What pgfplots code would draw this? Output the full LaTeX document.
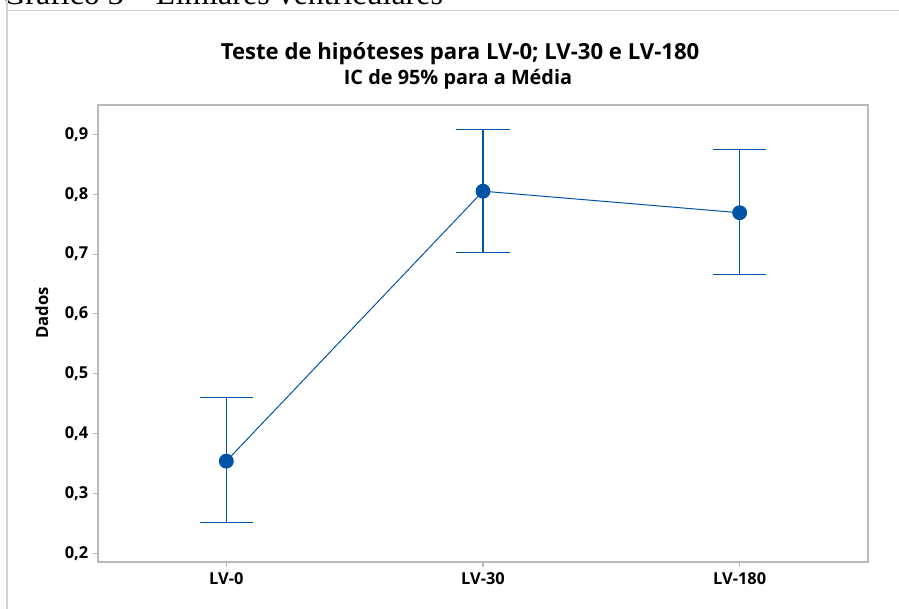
\documentclass[border=0pt]{standalone}
\usepackage{pgfplots}
\pgfplotsset{compat=1.18}
\usepackage{fontspec}
\setmainfont{Open Sans}
\newfontfamily\seriffont{Liberation Serif}
\definecolor{mblue}{RGB}{0,84,166}
\definecolor{axgray}{RGB}{185,185,185}
\definecolor{framegray}{RGB}{210,210,210}
\begin{document}
\begin{tikzpicture}[x=1pt,y=1pt]
\useasboundingbox (0,0) rectangle (674.25,456);
% header text (cut at top)
\node[anchor=base west,inner sep=0pt,font=\seriffont\fontsize{24}{28}\selectfont] at (1.5,452.6) {Gráfico 3 – Limiares ventriculares};
% frame
\draw[framegray,line width=0.9pt] (5.25,460) -- (5.25,448.1) -- (680,448.1);
\draw[framegray,line width=0.9pt] (5.25,448.1) -- (5.25,-5);
% titles
\node[anchor=base,inner sep=0pt,font=\bfseries\fontsize{16.6}{19}\selectfont] at (345,411) {Teste de hipóteses para LV-0; LV-30 e LV-180};
\node[anchor=base,inner sep=0pt,font=\bfseries\fontsize{14.9}{17}\selectfont] at (343.5,392.25) {IC de 95\% para a Média};
% y label
\node[rotate=90,anchor=center,inner sep=0pt,font=\bfseries\fontsize{12.5}{14}\selectfont] at (31.5,221.25) {Dados};
\begin{axis}[
  at={(73.5pt,34.5pt)}, anchor=south west,
  scale only axis, width=577.5pt, height=342.75pt,
  xmin=-0.5, xmax=2.5, ymin=0.1855, ymax=0.949,
  xtick={0,1,2}, xticklabels={LV-0,LV-30,LV-180},
  ytick={0.2,0.3,...,0.9},
  axis line style={axgray,line width=1.1pt},
  tick style={axgray,line width=0.8pt},
  tick align=outside, tick pos=left,
  major tick length=3.75pt,
  ticklabel style={font=\bfseries\fontsize{12.3}{14}\selectfont},
  xticklabel style={yshift=-1pt},
  yticklabel style={/pgf/number format/.cd,fixed,fixed zerofill,precision=1,use comma,assume math mode=true},
  /pgf/number format/assume math mode=true,
  clip=false,
]
\addplot[mblue, line width=0.75pt, mark=*, mark size=5.2pt, mark options={fill=mblue, draw=mblue},
  error bars/.cd, y dir=both, y explicit,
  error bar style={mblue, line width=0.9pt},
  error mark options={mblue, line width=0.9pt, mark size=20pt, rotate=90}]
  table[x=x, y=y, y error plus=ep, y error minus=em] {
  x y ep em
  0 0.354 0.106 0.103
  1 0.805 0.103 0.103
  2 0.769 0.105 0.103
};
\end{axis}
\end{tikzpicture}
\end{document}
